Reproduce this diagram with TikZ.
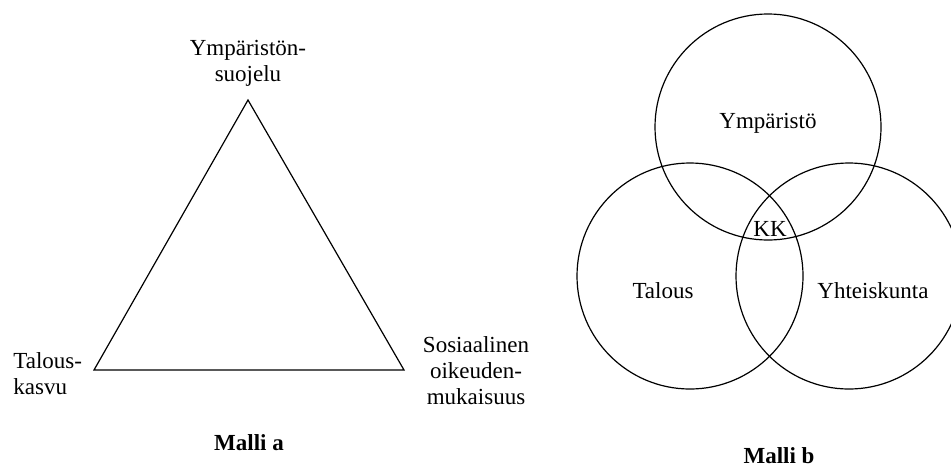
\documentclass[tikz,border=0pt]{standalone}
\usepackage{fontspec}
\setmainfont{Liberation Serif}
\tikzset{
  lbl/.style={inner sep=0pt, align=center, font=\fontsize{11.5}{13}\selectfont},
  ring/.style={circle, draw=black, line width=0.6pt, minimum size=113pt, inner sep=0pt},
}

\begin{document}
\begin{tikzpicture}[x=0.5pt,y=0.5pt]
            \useasboundingbox (0,0) rectangle (951,468);
            % Malli a
            \coordinate (apex) at (248,368);
            \coordinate (bl) at (94,98);
            \coordinate (br) at (404,98);
            \draw[line width=0.6pt] (apex) -- (bl) -- (br) -- cycle;
            \node[lbl] (suoj) at (248,405) {Ympäristön-\\suojelu};
            \node[lbl, anchor=west, align=left] (kasvu) at (13,94) {Talous-\\kasvu};
            \node[lbl] (sos) at (476,97) {Sosiaalinen\\oikeuden-\\mukaisuus};
            \node[lbl, font=\fontsize{11.5}{13}\selectfont\bfseries] (mallia) at (249,25) {Malli a};
            % Malli b
            \node[ring] (ymp) at (768,341) {};
            \node[ring] (tal) at (690,192) {};
            \node[ring] (yht) at (849,192) {};
            \node[lbl] (ymplbl) at (768,345) {Ympäristö};
            \node[lbl] (tallbl) at (663,177) {Talous};
            \node[lbl] (yhtlbl) at (873,177) {Yhteiskunta};
            \node[lbl] (kk) at (770,239) {KK};
            \node[lbl, font=\fontsize{11.5}{13}\selectfont\bfseries] (mallib) at (779,12) {Malli b};
        \end{tikzpicture}
\end{document}
